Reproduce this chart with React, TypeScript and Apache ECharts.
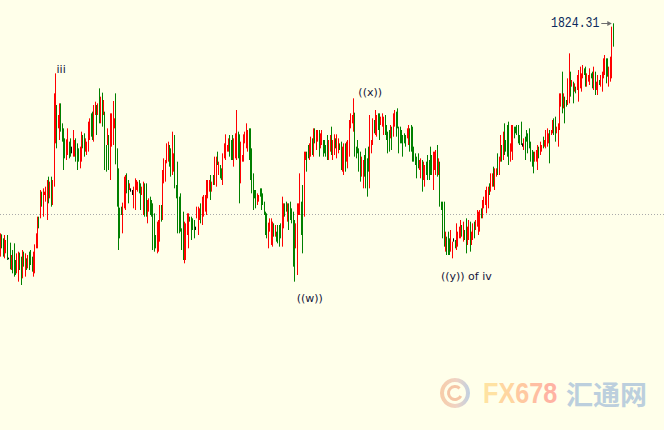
import React, { useEffect, useRef } from 'react';
import * as echarts from 'echarts';

// Each candle: [open, close, low, high]
const legStart: number[][] = [
  [1756.8,1760.3,1754.3,1761.3],[1760.0,1757.3,1756.8,1761.0],[1758.8,1754.8,1754.3,1759.8],[1757.3,1760.1,1753.8,1760.8],
  [1755.8,1758.8,1755.3,1759.3],[1760.3,1753.3,1753.3,1760.8],[1753.8,1753.8,1753.5,1754.0],[1758.3,1750.8,1750.5,1758.5],
  [1750.8,1754.3,1750.3,1754.8],[1753.8,1752.3,1749.3,1756.3],[1753.3,1749.3,1748.3,1758.3],[1752.8,1750.3,1748.8,1753.3],
  [1750.8,1753.3,1749.3,1755.3],[1747.3,1755.3,1746.8,1755.8],[1755.0,1750.8,1750.3,1755.5],[1753.3,1747.3,1745.8,1754.3],
  [1748.3,1755.8,1747.8,1756.3],[1755.3,1751.8,1751.3,1755.8],[1748.8,1754.8,1748.3,1755.3],[1752.8,1751.3,1750.3,1753.8],
  [1751.3,1754.3,1750.8,1754.8],[1754.8,1753.3,1750.3,1755.8],[1755.8,1752.3,1751.8,1756.3],[1753.8,1750.3,1749.8,1754.3],
  [1748.8,1755.3,1748.3,1755.8],[1755.3,1757.8,1749.3,1758.0],[1757.5,1760.8,1756.8,1761.3],[1757.3,1765.8,1756.8,1766.3],
  [1765.8,1763.3,1762.8,1766.3],[1766.3,1773.8,1765.8,1774.3],[1773.3,1769.8,1769.3,1773.8],[1766.8,1773.8,1766.3,1774.8],
  [1773.0,1773.5,1772.8,1773.8],[1771.3,1774.8,1770.8,1775.3],[1765.8,1776.8,1765.3,1777.3],[1777.3,1773.3,1770.3,1778.3],
  [1772.3,1776.3,1771.8,1776.8],[1777.8,1769.8,1769.3,1778.3],[1770.3,1776.8,1769.8,1777.3],[1775.8,1791.8,1775.3,1803.3],
  [1791.8,1794.8,1788.3,1809.3],
  [1795.3,1791.8,1786.8,1799.8],[1793.3,1796.3,1792.8,1796.8],[1793.3,1798.3,1789.3,1800.3],[1799.3,1792.3,1791.8,1800.3],
  [1793.8,1789.3,1788.8,1794.3],[1792.3,1785.3,1780.3,1792.8],[1789.3,1784.3,1783.8,1789.8],[1786.3,1789.3,1783.3,1789.5],
  [1785.3,1792.3,1784.8,1792.8],[1788.3,1784.3,1783.8,1788.8],[1787.3,1785.8,1784.3,1789.8],[1786.8,1786.8,1785.3,1787.3],
  [1787.3,1790.3,1784.3,1792.3],[1784.8,1788.8,1784.3,1789.3],[1789.3,1783.3,1782.8,1789.8],[1787.8,1783.3,1780.3,1788.3],
  [1786.3,1783.3,1782.8,1786.8],[1783.3,1786.3,1780.8,1787.3],[1783.3,1791.3,1782.8,1791.8],[1789.3,1787.3,1786.8,1790.8],
  [1788.8,1786.3,1784.3,1791.3],[1786.3,1789.3,1785.8,1789.8],[1785.3,1788.3,1784.8,1788.8],[1786.3,1794.3,1785.8,1794.8],
  [1789.8,1795.3,1789.3,1795.8],[1794.3,1793.3,1790.3,1797.3],[1797.3,1793.3,1789.3,1797.8],[1794.3,1798.3,1788.8,1799.8],
  [1797.3,1800.3,1796.8,1800.8],[1799.3,1793.8,1790.8,1799.8],[1797.3,1799.8,1796.8,1800.3],[1801.8,1797.3,1794.3,1804.8],
  [1794.8,1801.8,1794.3,1802.3],[1803.3,1797.3,1793.3,1803.5],[1797.3,1800.8,1796.8,1801.3],[1797.3,1786.8,1780.3,1797.8],
  [1787.3,1780.3,1779.8,1787.8],[1788.3,1792.3,1787.8,1792.8],[1786.8,1785.3,1780.3,1790.8],[1784.3,1793.3,1777.3,1797.3],
];

const legDrop: number[][] = [
  [1787.8,1796.8,1787.3,1797.3],[1793.8,1800.8,1787.8,1801.0],[1793.3,1795.3,1792.8,1795.8],[1795.3,1782.3,1782.0,1803.3],
  [1781.3,1779.8,1769.3,1786.8],[1780.3,1769.3,1756.3,1780.8],[1768.8,1766.8,1759.8,1769.0],[1768.8,1767.3,1766.8,1769.3],
  [1766.3,1770.3,1761.3,1770.5],[1769.3,1777.8,1768.8,1778.3],[1770.3,1777.8,1768.3,1778.8],[1777.8,1776.3,1773.3,1779.3],
  [1776.8,1770.8,1770.3,1777.3],[1774.8,1775.8,1774.3,1776.3],[1774.3,1774.3,1773.8,1774.8],[1773.5,1773.5,1772.8,1774.3],
  [1769.3,1774.8,1768.8,1775.3],[1768.8,1777.3,1768.3,1777.8],[1774.8,1776.8,1774.3,1777.3],[1774.3,1776.3,1773.8,1776.8],
  [1776.8,1773.8,1773.3,1777.3],[1775.8,1773.3,1768.3,1776.3],[1773.3,1774.8,1772.8,1775.3],[1769.3,1775.3,1766.8,1776.8],
  [1775.8,1766.8,1766.3,1776.3],[1775.8,1769.3,1766.3,1776.3],[1767.3,1769.8,1764.3,1771.3],[1768.3,1771.3,1767.8,1771.8],
  [1769.8,1769.3,1766.8,1772.3],[1770.8,1766.8,1766.3,1771.3],[1769.8,1757.8,1756.3,1770.3],[1760.3,1757.8,1755.8,1767.3],
  [1760.3,1757.3,1756.8,1760.8],[1757.3,1763.3,1755.3,1764.8],[1758.3,1764.3,1755.8,1765.3],[1759.3,1769.3,1758.8,1769.8],
  [1769.3,1765.3,1764.8,1769.8],[1765.8,1779.8,1765.3,1780.3],[1776.8,1783.3,1776.3,1783.8],[1777.3,1782.8,1776.8,1783.3],
  [1782.8,1786.3,1782.3,1788.3],[1783.3,1788.3,1782.8,1788.8],[1786.8,1785.3,1781.3,1787.8],[1786.3,1781.3,1778.3,1786.8],
  [1779.3,1784.3,1778.8,1791.8],[1780.3,1784.8,1779.8,1785.3],[1784.3,1775.3,1774.8,1790.8],[1775.3,1772.3,1771.8,1775.8],
  [1772.3,1769.3,1761.3,1782.8],[1771.3,1766.3,1761.3,1772.3],[1772.3,1769.3,1761.8,1773.3],[1762.3,1756.8,1756.3,1762.8],
  [1761.8,1753.8,1753.3,1767.8],[1753.3,1764.3,1752.3,1764.8],[1754.3,1762.3,1753.3,1764.3],[1761.3,1766.8,1760.8,1767.3],
  [1762.3,1766.3,1756.8,1767.3],[1765.8,1765.3,1764.8,1766.3],[1765.8,1763.3,1759.3,1766.3],[1765.3,1762.8,1762.3,1765.8],
  [1764.8,1760.3,1759.8,1765.3],[1762.8,1762.8,1762.3,1763.3],[1766.3,1768.8,1765.8,1769.3],[1763.3,1768.8,1760.8,1769.3],
  [1766.8,1768.3,1765.3,1768.8],[1769.3,1767.3,1764.3,1770.3],[1764.3,1767.8,1763.8,1772.3],[1766.8,1772.3,1766.3,1772.8],
  [1768.3,1772.3,1767.8,1772.8],[1767.3,1776.8,1766.8,1777.3],[1772.3,1776.8,1771.8,1777.3],[1774.3,1776.8,1773.8,1777.3],
  [1777.8,1773.8,1771.3,1778.8],[1774.3,1776.3,1773.8,1776.8],[1778.3,1776.3,1775.8,1778.8],[1776.3,1783.8,1775.8,1784.3],
  [1780.3,1783.8,1775.3,1784.3],
];

const legW: number[][] = [
  [1785.3,1782.3,1781.8,1785.8],[1779.3,1782.3,1778.8,1782.8],[1781.3,1778.3,1777.8,1781.8],[1780.3,1777.8,1777.3,1780.8],
  [1778.8,1784.8,1775.8,1785.3],[1784.3,1787.8,1783.8,1788.3],[1786.3,1790.8,1783.3,1791.0],[1786.3,1787.3,1785.8,1787.8],
  [1786.3,1789.3,1785.8,1789.8],[1788.8,1785.8,1784.3,1790.8],[1788.8,1783.8,1783.3,1789.3],[1790.3,1787.3,1783.3,1790.8],
  [1784.3,1788.3,1781.3,1789.8],[1784.3,1790.8,1783.8,1791.3],[1784.3,1790.8,1783.3,1798.3],[1790.8,1784.3,1783.8,1791.8],
  [1784.8,1783.3,1770.3,1791.0],[1783.3,1788.3,1776.3,1788.8],[1783.3,1784.3,1782.8,1784.8],[1784.3,1790.3,1782.8,1791.0],
  [1788.8,1791.3,1788.3,1791.8],[1788.8,1793.3,1786.8,1794.3],[1786.3,1791.8,1785.8,1792.3],[1792.3,1789.3,1783.3,1792.8],
  [1792.3,1786.3,1777.3,1792.8],[1786.3,1773.8,1773.3,1786.8],[1775.3,1773.8,1768.3,1779.3],[1773.8,1772.3,1771.8,1774.3],
  [1773.8,1769.3,1768.8,1774.3],[1770.3,1772.8,1769.8,1773.3],[1771.3,1772.3,1770.8,1772.8],[1774.3,1772.8,1772.3,1774.8],
  [1774.3,1770.3,1768.3,1774.8],[1772.8,1770.3,1769.8,1773.3],[1770.3,1767.3,1766.8,1770.8],[1767.3,1761.3,1760.8,1767.8],
  [1765.3,1761.3,1759.8,1767.3],[1760.3,1764.3,1756.8,1764.5],[1762.3,1765.3,1761.8,1765.8],[1758.3,1765.3,1757.8,1765.8],
  [1757.8,1764.3,1757.3,1764.8],[1763.8,1760.8,1760.3,1764.3],[1760.8,1763.3,1760.3,1763.8],[1761.3,1759.3,1758.8,1761.8],
  [1763.3,1758.8,1758.3,1763.8],[1763.3,1760.3,1757.3,1763.8],[1763.8,1760.3,1759.8,1764.3],[1761.3,1771.3,1757.3,1772.3],
  [1763.3,1769.8,1762.8,1770.3],[1769.8,1766.8,1766.3,1770.3],[1770.3,1768.3,1767.8,1770.8],[1765.3,1769.8,1764.8,1770.3],
  [1769.8,1765.3,1762.3,1770.3],[1770.3,1765.8,1765.3,1770.8],[1768.3,1764.8,1764.3,1768.8],[1766.3,1757.3,1751.3,1767.8],
  [1759.3,1751.3,1746.8,1765.3],[1757.3,1763.8,1756.8,1764.3],[1751.3,1768.3,1748.8,1770.3],[1767.3,1769.8,1766.8,1770.3],
  [1767.3,1777.3,1766.8,1779.3],[1770.3,1761.3,1760.8,1770.8],[1772.3,1767.3,1755.3,1775.8],[1766.8,1785.3,1766.3,1785.8],
  [1783.8,1785.3,1783.3,1785.8],[1785.3,1780.3,1779.8,1785.8],[1787.3,1784.3,1783.8,1787.8],[1783.8,1787.8,1783.3,1788.3],
  [1784.8,1789.8,1784.3,1790.3],[1789.3,1785.3,1784.8,1789.8],[1786.8,1788.8,1784.3,1792.8],[1792.3,1788.8,1788.3,1792.8],
  [1786.8,1791.8,1786.3,1792.3],[1789.3,1791.8,1788.8,1792.3],[1791.3,1788.3,1784.3,1792.3],[1787.3,1790.8,1786.8,1791.3],
  [1788.3,1791.8,1787.8,1792.3],[1788.8,1787.3,1784.3,1789.3],[1788.8,1785.8,1785.3,1789.3],[1787.3,1784.8,1784.3,1787.8],
  [1787.3,1785.3,1783.3,1790.8],
];

const legX: number[][] = [
  [1783.8,1788.8,1783.3,1789.3],[1786.3,1790.3,1785.8,1790.8],[1790.8,1786.8,1784.8,1793.3],[1783.8,1788.8,1783.3,1789.3],
  [1787.3,1790.8,1784.8,1791.0],[1789.3,1787.3,1786.8,1789.8],[1785.8,1789.8,1783.8,1791.0],[1785.8,1789.3,1785.3,1789.8],
  [1787.8,1786.8,1786.3,1788.3],[1788.3,1780.8,1780.3,1788.8],[1780.3,1786.8,1779.8,1787.3],[1781.3,1787.3,1778.8,1788.3],
  [1787.3,1784.3,1779.8,1788.3],[1783.3,1788.3,1782.8,1788.8],[1783.3,1788.3,1780.8,1789.3],[1788.3,1794.8,1784.3,1795.3],
  [1793.3,1796.8,1792.8,1797.3],[1794.8,1796.3,1794.3,1796.8],[1792.3,1796.8,1791.8,1801.8],[1797.3,1786.8,1784.3,1797.5],
  [1786.8,1784.3,1783.8,1787.3],[1788.8,1785.8,1785.3,1789.3],[1786.3,1780.3,1779.8,1786.8],[1785.3,1779.3,1776.8,1785.8],
  [1778.8,1783.8,1778.3,1784.3],[1775.3,1781.3,1774.8,1783.3],[1784.3,1778.8,1778.3,1784.8],[1786.3,1780.3,1774.8,1786.8],
  [1782.3,1778.3,1772.3,1783.8],[1786.8,1780.3,1779.8,1787.3],[1775.3,1788.8,1774.8,1796.8],[1785.8,1788.8,1785.3,1789.3],
  [1788.3,1795.3,1787.8,1795.8],[1794.8,1791.8,1791.3,1795.3],[1791.3,1796.3,1790.8,1798.3],[1790.8,1796.3,1790.3,1796.8],
  [1796.8,1792.8,1792.3,1797.3],[1796.3,1791.8,1789.3,1797.3],[1794.3,1795.8,1793.8,1796.3],[1793.8,1796.8,1793.3,1797.3],
  [1791.8,1795.8,1790.8,1796.3],[1796.3,1791.3,1790.8,1796.8],[1793.3,1789.8,1789.3,1793.8],[1791.3,1785.8,1785.3,1791.8],
  [1791.8,1786.3,1785.8,1792.3],[1790.3,1793.3,1789.8,1793.8],[1792.8,1789.3,1786.3,1793.3],[1790.8,1796.8,1790.3,1797.3],
  [1793.8,1797.8,1793.3,1798.3],[1797.3,1793.3,1790.3,1797.8],[1798.3,1793.3,1792.8,1798.8],[1792.8,1789.3,1785.3,1793.3],
  [1792.8,1788.8,1788.3,1793.3],[1791.8,1788.8,1788.3,1792.3],[1790.3,1784.8,1784.3,1790.8],[1790.8,1788.8,1788.3,1791.3],
  [1790.3,1787.8,1787.3,1790.8],[1790.3,1792.3,1789.8,1792.8],[1788.3,1793.3,1787.8,1793.8],[1792.3,1786.3,1785.8,1792.8],
  [1793.3,1786.3,1785.8,1793.8],[1790.3,1786.3,1782.8,1793.3],[1786.8,1783.3,1782.8,1787.3],[1784.8,1782.3,1781.8,1785.3],
  [1783.3,1780.3,1777.8,1784.3],[1784.8,1781.3,1780.8,1785.3],[1780.8,1782.8,1780.3,1783.3],[1778.3,1783.3,1777.8,1783.8],
  [1782.8,1777.8,1773.8,1783.3],[1777.8,1782.3,1777.3,1782.8],[1777.3,1781.3,1775.3,1781.8],[1782.3,1779.3,1778.8,1782.8],
  [1783.3,1779.3,1777.3,1784.8],[1782.8,1777.8,1777.3,1783.3],[1786.8,1783.3,1778.8,1787.3],[1784.3,1781.3,1778.8,1784.8],
  [1780.3,1784.3,1774.3,1785.8],[1780.8,1785.3,1780.3,1785.8],[1782.3,1785.8,1778.8,1786.3],[1786.8,1783.3,1778.3,1787.8],
  [1779.3,1783.3,1778.8,1783.8],[1782.3,1775.3,1769.3,1782.8],
];

const legY: number[][] = [
  [1770.3,1768.8,1768.3,1770.8],[1770.3,1761.3,1759.8,1770.8],[1768.3,1759.8,1757.3,1770.8],[1757.3,1761.3,1755.8,1761.8],
  [1759.8,1755.3,1754.8,1760.3],[1761.3,1757.3,1754.8,1761.8],[1759.3,1755.3,1754.8,1759.8],[1756.3,1761.3,1755.8,1762.3],
  [1754.3,1758.3,1753.8,1758.8],[1759.3,1759.3,1758.8,1759.8],[1758.8,1757.3,1756.8,1759.3],[1757.3,1761.3,1756.3,1764.3],
  [1757.8,1761.3,1757.3,1761.8],[1760.3,1762.8,1759.8,1763.3],[1760.3,1764.8,1759.8,1765.3],[1763.3,1760.8,1760.3,1763.8],
  [1761.3,1764.3,1758.8,1764.8],[1761.8,1759.8,1759.3,1762.3],[1765.3,1762.3,1755.3,1765.8],[1758.3,1762.8,1757.8,1763.3],
  [1759.8,1764.8,1759.3,1765.3],[1764.3,1761.3,1755.8,1764.8],[1758.3,1761.3,1757.8,1761.8],[1759.8,1763.8,1759.3,1764.3],
  [1764.3,1760.3,1759.8,1764.8],[1762.8,1764.8,1762.3,1765.3],[1763.8,1767.8,1763.3,1768.3],[1763.3,1767.3,1760.8,1767.8],
  [1762.3,1767.8,1761.8,1768.3],[1768.3,1766.3,1765.8,1768.8],[1766.3,1770.8,1765.8,1771.3],[1769.3,1771.8,1768.8,1772.3],
  [1770.3,1773.8,1769.8,1774.3],[1769.3,1774.8,1767.3,1775.3],[1771.3,1774.8,1768.8,1775.3],[1775.8,1773.3,1772.8,1776.3],
  [1774.3,1778.8,1773.8,1779.3],[1775.8,1778.8,1775.3,1779.3],[1780.8,1778.3,1775.3,1781.3],[1776.3,1780.3,1774.3,1780.8],
  [1778.8,1780.3,1778.3,1780.8],[1784.8,1780.3,1778.8,1785.3],[1779.3,1783.8,1778.8,1784.3],[1783.3,1790.3,1782.8,1790.8],
  [1787.3,1783.3,1782.8,1787.8],[1784.8,1790.3,1783.3,1791.8],[1793.8,1789.3,1784.8,1794.3],[1788.8,1786.3,1785.8,1789.3],
  [1793.3,1789.3,1784.3,1793.8],[1790.3,1784.3,1781.8,1794.8],[1783.3,1787.8,1782.8,1788.3],[1786.3,1793.3,1785.8,1793.8],
  [1785.8,1792.3,1783.3,1793.8],[1792.8,1790.3,1789.8,1793.3],[1792.8,1791.8,1791.3,1793.3],[1793.3,1791.3,1790.8,1793.8],
  [1793.3,1790.3,1788.3,1793.8],[1790.3,1788.3,1787.8,1790.8],[1794.3,1791.8,1787.8,1794.8],[1787.8,1787.8,1787.3,1788.3],
  [1786.8,1789.3,1786.3,1789.8],[1789.8,1786.3,1783.3,1790.3],[1791.8,1789.3,1788.8,1792.3],[1790.8,1785.8,1785.3,1791.3],
  [1790.3,1787.3,1786.8,1792.8],[1788.3,1783.3,1782.8,1788.8],[1785.8,1781.8,1781.3,1786.3],[1785.3,1783.3,1779.3,1785.8],
  [1783.3,1785.3,1782.8,1785.8],[1783.3,1785.8,1782.8,1786.3],[1783.3,1786.8,1780.3,1787.8],[1786.8,1784.3,1783.8,1787.3],
  [1785.3,1788.3,1784.8,1788.8],[1786.3,1787.3,1785.8,1787.8],[1789.8,1787.3,1786.8,1790.3],[1787.8,1788.8,1787.3,1789.3],
  [1787.3,1791.8,1786.8,1792.3],[1787.8,1792.3,1787.3,1792.8],[1788.8,1790.8,1788.3,1791.3],[1791.8,1788.3,1782.3,1792.3],
  [1791.0,1791.8,1790.8,1792.3],[1791.8,1794.8,1791.3,1795.3],[1795.3,1791.3,1790.8,1795.8],[1795.8,1791.8,1788.8,1796.3],
];

const legFinal: number[][] = [
  [1791.8,1792.8,1791.3,1793.3],[1790.3,1793.8,1787.3,1794.3],[1792.8,1802.8,1792.3,1803.3],[1799.8,1802.8,1799.3,1803.3],
  [1802.8,1799.8,1797.3,1809.8],[1799.3,1802.8,1798.8,1803.3],[1799.8,1797.8,1794.3,1802.3],[1800.8,1799.8,1799.3,1801.3],
  [1800.3,1807.3,1799.8,1807.8],[1800.8,1807.3,1800.3,1815.3],[1809.3,1806.3,1802.3,1809.8],[1805.8,1806.8,1805.3,1807.3],
  [1806.3,1800.8,1800.3,1806.8],[1804.3,1805.8,1803.8,1806.3],[1804.8,1803.8,1803.3,1805.3],[1804.8,1808.3,1804.3,1808.8],
  [1805.3,1809.3,1800.8,1810.3],[1805.3,1810.8,1804.8,1811.3],[1804.3,1808.8,1803.8,1809.3],[1808.3,1811.3,1807.8,1811.8],
  [1810.3,1809.3,1808.8,1810.8],[1810.3,1808.3,1805.3,1811.3],[1805.8,1808.8,1805.3,1809.3],[1807.3,1808.3,1806.8,1808.8],
  [1806.3,1810.3,1805.8,1810.8],[1808.8,1808.3,1807.8,1809.3],[1809.3,1805.3,1804.8,1809.8],[1805.3,1809.3,1804.3,1811.3],
  [1808.8,1806.8,1802.8,1809.8],[1804.8,1806.3,1804.3,1806.8],[1803.3,1808.3,1802.8,1808.8],[1806.8,1806.3,1805.8,1807.3],
  [1805.8,1808.3,1805.3,1808.8],[1806.3,1809.3,1803.8,1809.8],[1808.3,1813.3,1807.8,1813.8],[1809.3,1814.3,1808.8,1814.8],
  [1813.3,1808.3,1806.3,1813.8],[1813.3,1808.8,1808.3,1813.8],[1808.3,1810.8,1805.3,1811.3],[1807.3,1813.8,1806.8,1814.3],
  [1808.3,1820.3,1807.8,1823.3],[1820.8,1819.3,1817.3,1824.31],
];

const candles: number[][] = [...legStart, ...legDrop, ...legW, ...legX, ...legY, ...legFinal];
const categories: string[] = candles.map((_, i) => String(i));

const tagPrice = 1824.31;
const referenceLevel = 1767.0;

const waveLabels = [
  { index: 44, price: 1810.6, text: 'iii' },
  { index: 269, price: 1803.7, text: '((x))' },
  { index: 225, price: 1741.9, text: '((w))' },
  { index: 339, price: 1748.5, text: '((y)) of iv' },
];

const BG = '#FFFFEA';
const brandLetters = ['F', 'X', '6', '7', '8'];
const brandColors = ['#FFE2A2', '#FFD6A0', '#FFC9A1', '#FFBEA2', '#FFB3A3'];

export default function App() {
  const ref = useRef<HTMLDivElement>(null);

  useEffect(() => {
    if (!ref.current) return;
    const chart = echarts.init(ref.current, undefined, { renderer: 'svg' });
    chart.setOption({
      animation: false,
      backgroundColor: BG,
      grid: { left: 0, right: 50, top: 0, bottom: 0 },
      xAxis: { type: 'category', data: categories, boundaryGap: true, show: false },
      yAxis: { type: 'value', min: 1702.3, max: 1831.3, show: false, splitLine: { show: false } },
      series: [
        {
          type: 'candlestick',
          data: candles,
          barWidth: 1,
          silent: true,
          itemStyle: {
            color: '#FF0000',
            color0: '#008000',
            borderColor: '#FF0000',
            borderColor0: '#008000',
            borderColorDoji: '#000000',
            borderWidth: 1,
          },
          markPoint: {
            symbol: 'rect',
            symbolSize: 0,
            silent: true,
            label: {
              show: true,
              position: 'inside',
              color: '#15153A',
              fontFamily: 'DejaVu Sans',
              fontSize: 11,
            },
            data: waveLabels.map((w) => ({
              name: w.text,
              coord: [String(w.index), w.price],
              label: { formatter: w.text },
            })),
          },
        },
      ],
    });

    const tip = chart.convertToPixel({ xAxisIndex: 0, yAxisIndex: 0 }, [categories[categories.length - 1], tagPrice]) as number[];
    const lvl = chart.convertToPixel({ yAxisIndex: 0 }, referenceLevel) as number;
    const ty = Math.round(tip[1]) + 0.5;
    const ly = Math.round(lvl) + 0.5;

    const rich: Record<string, any> = {};
    brandLetters.forEach((_, i) => {
      rich['c' + i] = { fill: brandColors[i], color: brandColors[i], font: 'bold 30px "Liberation Sans"', fontSize: 30, fontWeight: 'bold', fontFamily: 'Liberation Sans' };
    });
    const brandText = brandLetters.map((ch, i) => `{c${i}|${ch}}`).join('');

    chart.setOption({
      graphic: [
        {
          type: 'line', z: 1, silent: true,
          shape: { x1: 0, y1: ly, x2: 664, y2: ly },
          style: { stroke: '#AAAAAA', lineWidth: 1, lineDash: [1, 2] },
        },
        {
          type: 'line', z: 10, silent: true,
          shape: { x1: tip[0] - 12, y1: ty, x2: tip[0] - 3, y2: ty },
          style: { stroke: '#6E6E6E', lineWidth: 1 },
        },
        {
          type: 'polygon', z: 10, silent: true,
          shape: { points: [[tip[0] - 1.5, ty], [tip[0] - 6, ty - 2.5], [tip[0] - 6, ty + 2.5]] },
          style: { fill: '#6E6E6E' },
        },
        {
          type: 'text', z: 10, silent: true,
          x: tip[0] - 14, y: ty, scaleX: 0.82,
          style: {
            text: tagPrice.toFixed(2),
            font: '14px "Liberation Mono"',
            fill: '#0B2A5C',
            align: 'right', textAlign: 'right',
            verticalAlign: 'middle', textVerticalAlign: 'middle',
          },
        },
        {
          type: 'ring', silent: true,
          shape: { cx: 455, cy: 393, r: 15, r0: 11 },
          style: {
            fill: new echarts.graphic.LinearGradient(0, 0, 1, 0, [
              { offset: 0, color: '#F8CDA8' },
              { offset: 0.55, color: '#EFD3C4' },
              { offset: 1, color: '#BFD0E2' },
            ]),
          },
        },
        {
          type: 'arc', silent: true,
          shape: { cx: 455, cy: 393, r: 6.5, startAngle: Math.PI * 0.15, endAngle: Math.PI * 1.75 },
          style: { stroke: '#F5C6A6', lineWidth: 3, fill: 'none' },
        },
        {
          type: 'text', silent: true,
          x: 483, y: 393, scaleX: 0.84,
          style: {
            text: brandText,
            rich,
            font: 'bold 30px "Liberation Sans"',
            fill: brandColors[2],
            align: 'left', textAlign: 'left',
            verticalAlign: 'middle', textVerticalAlign: 'middle',
          },
        },
        {
          type: 'text', silent: true,
          x: 566, y: 393,
          style: {
            text: '汇通网',
            font: 'bold 27px "Noto Sans CJK SC"',
            fill: '#BCCFDD',
            align: 'left', textAlign: 'left',
            verticalAlign: 'middle', textVerticalAlign: 'middle',
          },
        },
      ],
    });

    return () => chart.dispose();
  }, []);

  return (
    <div
      ref={ref}
      style={{ position: 'fixed', left: 0, top: 0, width: 664, height: 430, background: BG }}
    />
  );
}
